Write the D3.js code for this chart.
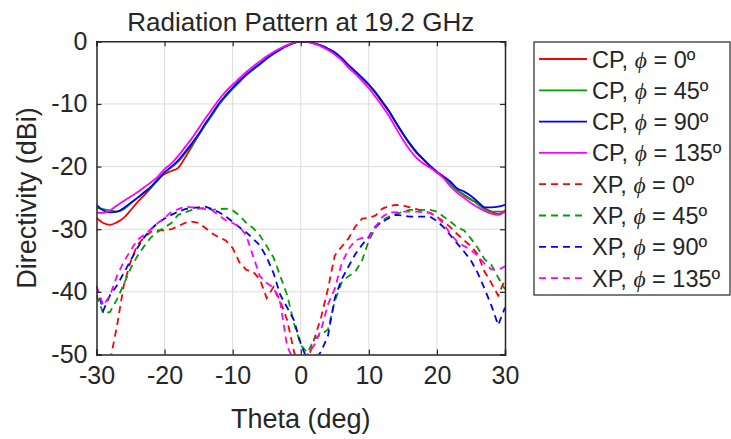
<!DOCTYPE html>
<html>
<head>
<meta charset="utf-8">
<script src="https://cdn.jsdelivr.net/npm/d3@7"></script>
<style>
  html, body { margin: 0; padding: 0; background: #fff; }
  svg { display: block; }
  text { font-family: "Liberation Sans", Arial, Helvetica, sans-serif; fill: #262626; }
</style>
</head>
<body>
<svg id="chart" width="731" height="439"></svg>
<script>
// ---- data ----
const theta = d3.range(-30, 31, 1);

const cp0 = [-28.2,-29.0,-29.3,-28.9,-28.2,-27.0,-25.7,-24.6,-23.4,-22.0,-21.2,-20.7,-20.2,-18.6,-16.8,-15.0,-13.3,-11.7,-10.1,-8.7,-7.5,-6.4,-5.4,-4.5,-3.6,-2.7,-2.0,-1.3,-0.7,-0.25,0,
             -0.1,-0.35,-0.7,-1.2,-1.8,-2.7,-3.8,-4.8,-5.9,-7.0,-8.3,-9.8,-11.3,-13.1,-14.8,-16.4,-17.8,-18.9,-20.0,-21.0,-21.6,-22.6,-23.8,-24.6,-25.3,-25.8,-26.6,-27.2,-27.6,-27.0];
const cp45 = [-26.6,-26.8,-27.0,-27.2,-26.8,-25.9,-25.0,-24.2,-23.3,-22.2,-21.0,-20.1,-19.2,-17.9,-16.5,-15.0,-13.3,-11.7,-10.1,-8.8,-7.6,-6.5,-5.4,-4.5,-3.7,-2.8,-2.0,-1.3,-0.7,-0.25,0,
             -0.1,-0.35,-0.7,-1.2,-1.8,-2.7,-3.8,-4.8,-5.8,-6.9,-8.2,-9.7,-11.2,-13.0,-14.7,-16.3,-17.7,-18.8,-19.9,-20.8,-21.8,-22.8,-23.8,-24.5,-25.2,-26.0,-26.8,-27.2,-27.2,-27.2];
const cp90 = [-26.1,-27.0,-27.3,-27.2,-26.6,-25.8,-25.0,-24.1,-23.2,-22.1,-20.9,-20.0,-19.0,-17.7,-16.3,-14.8,-13.1,-11.5,-9.9,-8.6,-7.4,-6.3,-5.3,-4.4,-3.6,-2.7,-2.0,-1.3,-0.7,-0.25,0,
             -0.1,-0.35,-0.7,-1.2,-1.8,-2.7,-3.8,-4.8,-5.8,-6.9,-8.2,-9.7,-11.2,-13.0,-14.7,-16.3,-17.7,-18.8,-19.9,-20.8,-21.6,-22.4,-23.5,-24.0,-24.7,-25.6,-26.5,-26.5,-26.4,-26.1];
const cp135 = [-27.4,-27.4,-27.0,-26.2,-25.5,-24.8,-24.1,-23.3,-22.5,-21.6,-20.4,-19.5,-18.3,-16.9,-15.5,-13.9,-12.3,-10.8,-9.3,-8.0,-6.9,-5.9,-4.9,-4.0,-3.2,-2.4,-1.7,-1.1,-0.6,-0.2,0,
              -0.1,-0.4,-0.8,-1.4,-2.1,-3.0,-4.2,-5.2,-6.3,-7.5,-8.9,-10.4,-12.0,-13.9,-15.7,-17.3,-18.6,-19.5,-20.2,-20.9,-21.9,-23.2,-24.2,-25.0,-25.8,-26.5,-27.1,-27.5,-27.7,-27.2];

const xp0 = [-49.8,-53,-51,-45.5,-39.0,-35.2,-32.5,-31.3,-30.4,-30.2,-30.2,-30.0,-29.5,-29.0,-28.8,-29.0,-29.8,-30.7,-31.3,-31.8,-33.0,-35.3,-36.5,-36.8,-38.0,-41.0,-39.2,-41.5,-44.5,-49.5,-53,
             -51,-47.5,-44.0,-39.5,-34.2,-32.8,-31.5,-29.6,-28.3,-28.2,-27.8,-26.7,-26.3,-26.1,-26.2,-26.5,-26.8,-27.1,-27.4,-28.0,-28.8,-29.7,-30.8,-31.8,-32.7,-34.0,-36.8,-38.6,-40.6,-38.0];
const xp45 = [-40.5,-43.5,-43.2,-41.2,-38.8,-36.3,-34.3,-32.7,-31.3,-30.4,-29.7,-29.0,-27.7,-27.3,-26.9,-26.7,-26.6,-26.9,-26.8,-26.7,-27.0,-27.8,-29.0,-29.8,-31.0,-32.7,-34.5,-37.5,-40.5,-45.0,-48.5,
              -49.7,-47.5,-46.8,-46.0,-41.5,-38.5,-37.5,-36.8,-35.0,-31.8,-29.8,-28.5,-28.0,-27.6,-27.2,-26.9,-26.9,-26.9,-26.9,-27.2,-28.0,-28.8,-29.7,-30.2,-31.5,-33.0,-34.8,-35.7,-37.7,-39.6];
const xp90 = [-39.1,-43.0,-40.5,-39.0,-37.0,-35.0,-33.0,-31.3,-30.0,-29.0,-28.3,-27.7,-27.2,-26.8,-26.6,-26.5,-26.4,-26.8,-27.3,-28.0,-28.8,-29.7,-30.5,-31.5,-32.6,-34.5,-37.0,-40.5,-42.5,-44.5,-48.3,
              -51,-51,-49.5,-47.0,-41.0,-38.0,-36.0,-34.0,-32.5,-31.2,-29.5,-28.8,-28.2,-27.7,-27.8,-28.0,-28.0,-28.0,-28.0,-28.7,-29.7,-31.0,-32.3,-33.6,-35.0,-37.0,-39.5,-42.2,-45.3,-42.5];
const xp135 = [-39.1,-42.2,-40.5,-37.5,-35.2,-33.4,-31.7,-30.9,-30.0,-29.0,-28.2,-27.2,-26.8,-26.4,-26.5,-26.6,-26.8,-27.0,-27.8,-28.6,-29.0,-29.6,-31.0,-34.3,-37.5,-38.6,-39.3,-41.8,-48.7,-51,-51,
               -50,-48.5,-46,-42,-39.5,-35.5,-33.2,-31.8,-31.4,-31.4,-29.6,-28.0,-27.3,-27.3,-27.2,-27.2,-27.2,-27.3,-27.4,-28.0,-29.2,-30.8,-32.0,-32.7,-33.3,-34.3,-35.5,-36.4,-36.5,-35.9];

const xTicks = [-30, -20, -10, 0, 10, 20, 30];
const yTicks = [0, -10, -20, -30, -40, -50];
const seriesNames = ["CP, \u03d5 = 0\u00ba", "CP, \u03d5 = 45\u00ba", "CP, \u03d5 = 90\u00ba", "CP, \u03d5 = 135\u00ba",
                     "XP, \u03d5 = 0\u00ba", "XP, \u03d5 = 45\u00ba", "XP, \u03d5 = 90\u00ba", "XP, \u03d5 = 135\u00ba"];
const seriesValues = [cp0, cp45, cp90, cp135, xp0, xp45, xp90, xp135];
const seriesColors = ["#ff0000", "#00a000", "#0000ff", "#ff00ff", "#ff0000", "#00a000", "#0000ff", "#ff00ff"];
const seriesDashed = [false, false, false, false, true, true, true, true];

// ---- layout ----
const svg = d3.select("#chart");
const L = 96.5, R = 505, T = 41.3, B = 354.5;
const x = d3.scaleLinear().domain([-30, 30]).range([L, R]);
const y = d3.scaleLinear().domain([-50, 0]).range([B, T]);

svg.append("defs").append("clipPath").attr("id", "clip")
  .append("rect").attr("x", L).attr("y", T).attr("width", R - L).attr("height", B - T);

// grid
const grid = svg.append("g");
grid.selectAll(".gx").data(xTicks.slice(1, -1)).join("line")
  .attr("x1", d => x(d)).attr("x2", d => x(d)).attr("y1", T).attr("y2", B)
  .attr("stroke", "#dcdcdc").attr("stroke-width", 1);
grid.selectAll(".gy").data(yTicks.slice(1, -1)).join("line")
  .attr("y1", d => y(d)).attr("y2", d => y(d)).attr("x1", L).attr("x2", R)
  .attr("stroke", "#dcdcdc").attr("stroke-width", 1);

// lines
const plot = svg.append("g").attr("clip-path", "url(#clip)");
seriesValues.forEach((vals, i) => {
  const pts = theta.map((t, k) => [t, vals[k]]);
  const line = d3.line().x(d => x(d[0])).y(d => y(d[1]))
    .curve(seriesDashed[i] ? d3.curveLinear : d3.curveMonotoneX);
  plot.append("path").datum(pts)
    .attr("d", line)
    .attr("fill", "none")
    .attr("stroke", seriesColors[i])
    .attr("stroke-width", 1.8)
    .attr("stroke-dasharray", seriesDashed[i] ? "7,5" : null);
});

// axes (box with inward ticks)
const tickLen = 5;
const axColor = "#262626";
const axB = svg.append("g").attr("transform", `translate(0,${B})`)
  .call(d3.axisBottom(x).tickValues(xTicks).tickSize(-tickLen).tickPadding(12).tickFormat(d3.format("d")));
const axT = svg.append("g").attr("transform", `translate(0,${T})`)
  .call(d3.axisTop(x).tickValues(xTicks).tickSize(-tickLen).tickFormat(""));
const axL = svg.append("g").attr("transform", `translate(${L},0)`)
  .call(d3.axisLeft(y).tickValues(yTicks).tickSize(-tickLen).tickPadding(9).tickFormat(d3.format("d")));
const axR = svg.append("g").attr("transform", `translate(${R},0)`)
  .call(d3.axisRight(y).tickValues(yTicks).tickSize(-tickLen).tickFormat(""));
[axB, axT, axL, axR].forEach(a => {
  a.select(".domain").attr("stroke", axColor).attr("stroke-width", 1.5);
  a.selectAll(".tick line").attr("stroke", axColor).attr("stroke-width", 1.2);
  a.selectAll("text").attr("fill", "#262626").style("font-size", "25px")
    .style("font-family", '"Liberation Sans", Arial, sans-serif');
});
axB.selectAll("text").text(d => d < 0 ? "-" + Math.abs(d) : d);
axL.selectAll("text").text(d => d < 0 ? "-" + Math.abs(d) : d);

// title & labels
svg.append("text").attr("x", (L + R) / 2).attr("y", 31).attr("text-anchor", "middle")
  .style("font-size", "26px").text("Radiation Pattern at 19.2 GHz");
svg.append("text").attr("x", (L + R) / 2).attr("y", 428).attr("text-anchor", "middle")
  .style("font-size", "27px").text("Theta (deg)");
svg.append("text").attr("transform", `translate(36,${(T + B) / 2}) rotate(-90)`).attr("text-anchor", "middle")
  .style("font-size", "27px").text("Directivity (dBi)");

// legend
const lg = svg.append("g");
lg.append("rect").attr("x", 534).attr("y", 42).attr("width", 196).attr("height", 253)
  .attr("fill", "#fff").attr("stroke", axColor).attr("stroke-width", 1.2);
seriesNames.forEach((name, i) => {
  const cy = 59 + i * 31.3;
  lg.append("line").attr("x1", 539).attr("x2", 587).attr("y1", cy).attr("y2", cy)
    .attr("stroke", seriesColors[i]).attr("stroke-width", 1.8)
    .attr("stroke-dasharray", seriesDashed[i] ? "7,5" : null);
  const parts = name.split("\u03d5");
  const t = lg.append("text").attr("x", 592).attr("y", cy + 8.5).style("font-size", "23.5px");
  t.append("tspan").text(parts[0]);
  t.append("tspan").style("font-style", "italic").style("font-family", '"Liberation Serif", "DejaVu Serif", serif').text("\u03d5");
  t.append("tspan").text(parts[1]);
});
</script>
</body>
</html>
